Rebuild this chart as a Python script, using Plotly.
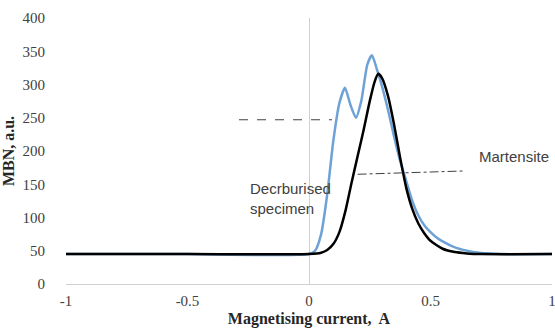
import plotly.graph_objects as go

# Magnetising current (A) and MBN (a.u.)
x_mart = [-1, -0.5, 0, 0.05, 0.075, 0.1, 0.125, 0.15, 0.175, 0.2, 0.225, 0.25, 0.27, 0.285, 0.3,
          0.325, 0.35, 0.375, 0.4, 0.425, 0.45, 0.475, 0.5, 0.55, 0.6, 0.65, 0.7, 1]
y_mart = [45, 45, 45, 47, 51, 60, 78, 110, 152, 192, 232, 275, 304, 316, 310,
          283, 240, 190, 145, 113, 91, 76, 65, 53, 48, 46, 45, 45]

x_decarb = [-1, -0.5, 0, 0.025, 0.05, 0.075, 0.1, 0.125, 0.148, 0.17, 0.193, 0.215, 0.24, 0.259,
            0.28, 0.3, 0.325, 0.35, 0.375, 0.4, 0.425, 0.45, 0.475, 0.5, 0.525, 0.55, 0.6, 0.65, 0.7, 0.8, 1]
y_decarb = [45, 45, 45, 50, 75, 135, 215, 272, 295, 270, 250, 275, 330, 344,
            322, 298, 262, 222, 185, 155, 125, 103, 88, 78, 70, 64, 55, 50, 47, 45, 45]

x_ticks = [-1, -0.5, 0, 0.5, 1]
y_ticks = [0, 50, 100, 150, 200, 250, 300, 350, 400]

fig = go.Figure()
fig.add_trace(go.Scatter(x=x_decarb, y=y_decarb, mode="lines",
                         line=dict(color="#6ea2d6", width=2.5, shape="spline", smoothing=0.6),
                         showlegend=False))
fig.add_trace(go.Scatter(x=x_mart, y=y_mart, mode="lines",
                         line=dict(color="#000000", width=2.5, shape="spline", smoothing=0.6),
                         showlegend=False))

tick_font = dict(family="Liberation Serif", size=15, color="#404040")
title_font = dict(family="Liberation Serif", size=16, color="#262626")
note_font = dict(family="Liberation Sans", size=15, color="#404040")

fig.update_layout(
    width=555, height=334,
    margin=dict(l=66, r=3, t=18, b=50),
    paper_bgcolor="white", plot_bgcolor="white",
    xaxis=dict(range=[-1, 1], tickvals=x_ticks, ticktext=[str(v) for v in x_ticks],
               showgrid=False, zeroline=True, zerolinecolor="#d0d0d0", zerolinewidth=1,
               showline=True, linecolor="#d0d0d0", linewidth=1, ticks="",
               tickfont=tick_font, automargin=False, ticklabeloverflow="allow",
               ticklabelstandoff=3,
               title=dict(text="<b>Magnetising current,  A</b>", font=title_font, standoff=4)),
    yaxis=dict(range=[0, 400], tickvals=y_ticks, showgrid=False, zeroline=False,
               showline=False, ticks="", tickfont=tick_font, automargin=False,
               ticklabelstandoff=20,
               title=dict(text="<b>MBN, a.u.</b>", font=title_font, standoff=4)),
    shapes=[
        dict(type="line", xref="x", yref="y", x0=-0.288, y0=247, x1=0.095, y1=247,
             line=dict(color="#404040", width=1, dash="dash")),
        dict(type="line", xref="x", yref="y", x0=0.2, y0=165, x1=0.64, y1=170,
             line=dict(color="#404040", width=1, dash="dashdot")),
    ],
    annotations=[
        dict(x=-0.251, y=129, xref="x", yref="y", text="Decrburised<br>specimen",
             showarrow=False, xanchor="left", yanchor="middle", align="left",
             font=note_font),
        dict(x=0.691, y=191, xref="x", yref="y", text="Martensite",
             showarrow=False, xanchor="left", yanchor="middle", align="left",
             font=note_font),
    ],
)

fig.write_html("out.html", config={"displayModeBar": False},
               post_script="document.body.style.margin='0';document.body.style.overflow='hidden';")
